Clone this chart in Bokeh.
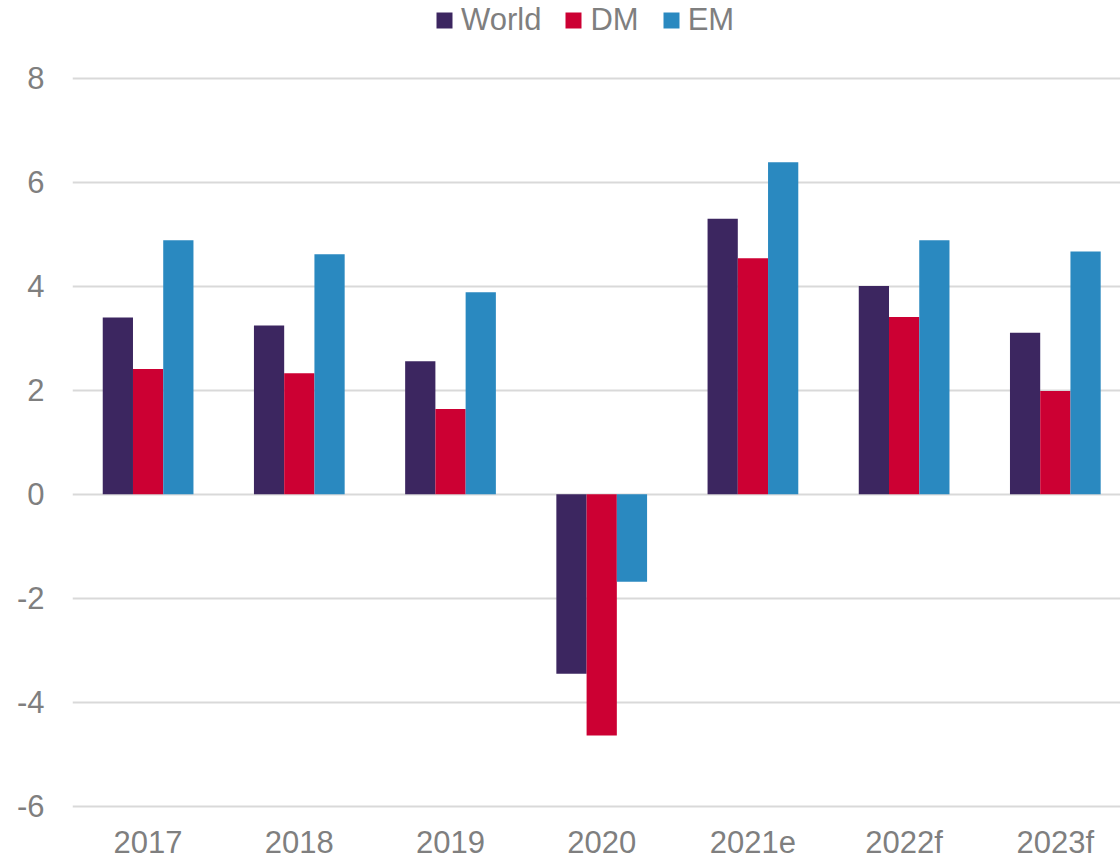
from bokeh.plotting import figure
from bokeh.models import ColumnDataSource, Range1d, FixedTicker, Legend, LegendItem
from bokeh.transform import dodge
from bokeh.embed import file_html
from bokeh.resources import INLINE

categories = ["2017", "2018", "2019", "2020", "2021e", "2022f", "2023f"]
world = [3.40, 3.25, 2.56, -3.45, 5.30, 4.01, 3.11]
dm = [2.41, 2.33, 1.64, -4.64, 4.54, 3.41, 1.99]
em = [4.89, 4.62, 3.89, -1.68, 6.39, 4.89, 4.67]
series_names = ["World", "DM", "EM"]
colors = ["#3C2660", "#CC0033", "#2A89C0"]
y_ticks = [-6, -4, -2, 0, 2, 4, 6, 8]

idx = list(range(len(categories)))
source = ColumnDataSource(dict(x=idx, World=world, DM=dm, EM=em))

TEXT = "#7f7f7f"
FONT = "Liberation Sans"

p = figure(frame_width=1048, frame_height=810, output_backend="svg", toolbar_location=None,
           x_range=Range1d(-0.5, 6.431), y_range=Range1d(-6.0827, 9.5006),
           min_border_left=72, min_border_right=0, min_border_top=0,
           min_border_bottom=30)
p.outline_line_color = None
p.background_fill_color = "white"

bw = 0.2
offsets = [-bw, 0.0, bw]
renderers = []
for name, col, off in zip(series_names, colors, offsets):
    r = p.vbar(x=dodge("x", off), top=name, bottom=0, width=bw, source=source,
               fill_color=col, line_color=None)
    renderers.append(r)

p.xgrid.grid_line_color = None
p.ygrid.grid_line_color = "#d9d9d9"
p.ygrid.grid_line_width = 2
p.ygrid.ticker = FixedTicker(ticks=y_ticks)

p.yaxis.ticker = FixedTicker(ticks=y_ticks)
p.yaxis.major_label_overrides = {t: str(t) for t in y_ticks}
p.xaxis.ticker = FixedTicker(ticks=idx)
p.xaxis.major_label_overrides = {i: c for i, c in zip(idx, categories)}

for ax in (p.xaxis, p.yaxis):
    ax.axis_line_color = None
    ax.major_tick_line_color = None
    ax.minor_tick_line_color = None
    ax.major_tick_out = 0
    ax.major_tick_in = 0
    ax.minor_tick_out = 0
    ax.major_label_text_font = FONT
    ax.major_label_text_font_size = "31px"
    ax.major_label_text_color = TEXT
p.yaxis.major_label_standoff = 28
p.xaxis.major_label_standoff = 14
p.xaxis.major_label_text_line_height = 0.7

legend = Legend(items=[LegendItem(label=n, renderers=[r]) for n, r in zip(series_names, renderers)],
                orientation="horizontal", location=(362, 772))
legend.glyph_width = 20
legend.glyph_height = 20
legend.label_standoff = 7
legend.spacing = 22
legend.padding = 0
legend.margin = 0
legend.border_line_color = None
legend.background_fill_alpha = 0
legend.label_text_font = FONT
legend.label_text_font_size = "31px"
legend.label_text_color = TEXT
p.add_layout(legend, "center")

open("out.html", "w").write(file_html(p, INLINE))
